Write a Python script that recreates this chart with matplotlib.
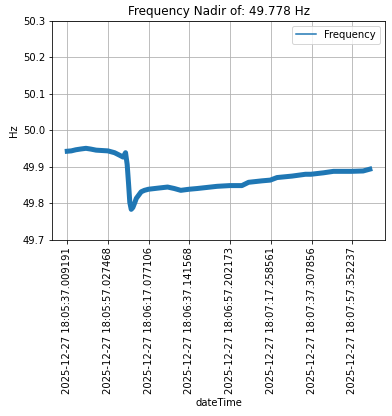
import numpy as np
import matplotlib
matplotlib.use("Agg")
import matplotlib.pyplot as plt
from matplotlib.lines import Line2D

# seconds since 2025-12-27 18:05:37.009191, and frequency in Hz
seconds = [0, 2, 4.2, 6.5, 9.2, 11.5, 14.2, 17, 20, 23.3, 25.8, 27.5, 28.7,
           29.5, 30.2, 30.8, 31.5, 32.3, 33.3, 34, 36.4, 38, 40, 44.6, 49.4,
           52.7, 55.9, 60, 64, 68.9, 73.8, 80, 86, 89.3, 95.9, 100, 103.3,
           110.7, 117.3, 120, 126.2, 131.1, 140, 145.7, 149]
freq = [49.943, 49.944, 49.947, 49.949, 49.951, 49.949, 49.946, 49.945, 49.944,
        49.939, 49.932, 49.927, 49.939, 49.907, 49.853, 49.803, 49.784, 49.789,
        49.803, 49.814, 49.832, 49.836, 49.839, 49.842, 49.845, 49.841, 49.836,
        49.839, 49.841, 49.844, 49.847, 49.849, 49.849, 49.858, 49.862, 49.864,
        49.871, 49.875, 49.880, 49.880, 49.884, 49.888, 49.888, 49.889, 49.894]

tick_labels = ["2025-12-27 18:05:37.009191", "2025-12-27 18:05:57.027468",
               "2025-12-27 18:06:17.077106", "2025-12-27 18:06:37.141568",
               "2025-12-27 18:06:57.202173", "2025-12-27 18:07:17.258561",
               "2025-12-27 18:07:37.307856", "2025-12-27 18:07:57.352237"]

nadir = 49.778


def to_seconds(label):
    hh, mm, ss = label.split(" ")[1].split(":")
    return int(hh) * 3600 + int(mm) * 60 + float(ss)


t0 = to_seconds(tick_labels[0])
tick_pos = [to_seconds(l) - t0 for l in tick_labels]

fig = plt.figure(figsize=(392 / 72, 416 / 72), dpi=72)
ax = fig.add_axes([0.133, 0.423, 0.849, 0.527])

ax.plot(seconds, freq, color="#1f77b4", linewidth=5, solid_joinstyle="round")
ax.set_ylim(49.7, 50.3)
ax.set_yticks(np.arange(49.7, 50.31, 0.1))
ax.set_xticks(tick_pos)
ax.set_xticklabels(tick_labels, rotation=90)
ax.grid(True)
ax.set_xlabel("dateTime")
ax.set_ylabel("Hz")
ax.set_title(f"Frequency Nadir of: {nadir} Hz")
ax.legend(handles=[Line2D([], [], color="#1f77b4", linewidth=1.5)],
          labels=["Frequency"], loc="upper right")

fig.savefig("out.png", dpi=72, facecolor="white")
